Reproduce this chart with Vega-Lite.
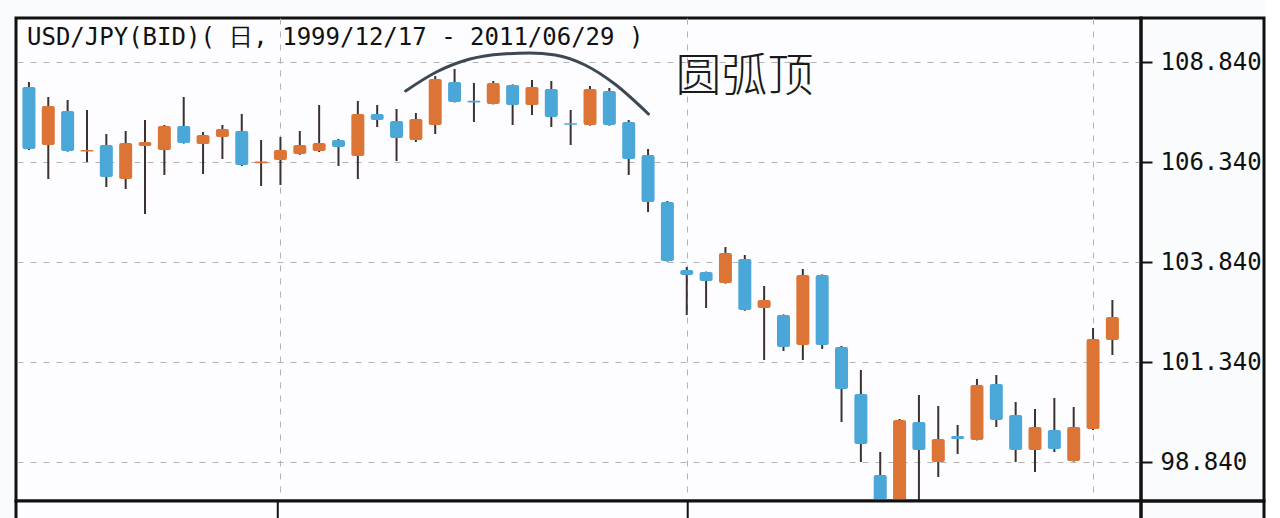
{
  "$schema": "https://vega.github.io/schema/vega-lite/v6.json",
  "description": "USD/JPY daily candlesticks with a rounded-top (圆弧顶) annotation.",
  "background": "#fafbfc",
  "padding": {"left": 14, "top": 16, "right": 0, "bottom": 0},
  "datasets": {
    "k": [
      {"i": 1, "open": 108.215, "high": 108.34, "low": 106.64, "close": 106.665},
      {"i": 2, "open": 106.765, "high": 107.965, "low": 105.915, "close": 107.74},
      {"i": 3, "open": 107.615, "high": 107.89, "low": 106.6, "close": 106.615},
      {"i": 4, "open": 106.6, "high": 107.64, "low": 106.34, "close": 106.64},
      {"i": 5, "open": 106.765, "high": 107.04, "low": 105.715, "close": 105.965},
      {"i": 6, "open": 105.915, "high": 107.115, "low": 105.665, "close": 106.815},
      {"i": 7, "open": 106.74, "high": 107.39, "low": 105.04, "close": 106.84},
      {"i": 8, "open": 106.64, "high": 107.265, "low": 106.015, "close": 107.24},
      {"i": 9, "open": 107.24, "high": 107.965, "low": 106.8, "close": 106.815},
      {"i": 10, "open": 106.79, "high": 107.09, "low": 106.04, "close": 107.015},
      {"i": 11, "open": 106.965, "high": 107.265, "low": 106.415, "close": 107.165},
      {"i": 12, "open": 107.115, "high": 107.54, "low": 106.24, "close": 106.265},
      {"i": 13, "open": 106.31, "high": 106.89, "low": 105.74, "close": 106.35},
      {"i": 14, "open": 106.39, "high": 106.965, "low": 105.765, "close": 106.64},
      {"i": 15, "open": 106.54, "high": 107.115, "low": 106.52, "close": 106.765},
      {"i": 16, "open": 106.615, "high": 107.765, "low": 106.59, "close": 106.815},
      {"i": 17, "open": 106.89, "high": 106.915, "low": 106.24, "close": 106.715},
      {"i": 18, "open": 106.49, "high": 107.865, "low": 105.915, "close": 107.54},
      {"i": 19, "open": 107.54, "high": 107.765, "low": 107.215, "close": 107.39},
      {"i": 20, "open": 107.365, "high": 107.665, "low": 106.365, "close": 106.94},
      {"i": 21, "open": 106.89, "high": 107.565, "low": 106.84, "close": 107.415},
      {"i": 22, "open": 107.265, "high": 108.49, "low": 107.04, "close": 108.415},
      {"i": 23, "open": 108.34, "high": 108.665, "low": 107.83, "close": 107.84},
      {"i": 24, "open": 107.87, "high": 108.315, "low": 107.34, "close": 107.83},
      {"i": 25, "open": 107.79, "high": 108.365, "low": 107.78, "close": 108.315},
      {"i": 26, "open": 108.265, "high": 108.28, "low": 107.265, "close": 107.765},
      {"i": 27, "open": 107.765, "high": 108.39, "low": 107.515, "close": 108.215},
      {"i": 28, "open": 108.165, "high": 108.365, "low": 107.215, "close": 107.465},
      {"i": 29, "open": 107.31, "high": 107.64, "low": 106.765, "close": 107.27},
      {"i": 30, "open": 107.265, "high": 108.24, "low": 107.25, "close": 108.165},
      {"i": 31, "open": 108.115, "high": 108.19, "low": 107.25, "close": 107.265},
      {"i": 32, "open": 107.34, "high": 107.39, "low": 106.015, "close": 106.415},
      {"i": 33, "open": 106.515, "high": 106.665, "low": 105.09, "close": 105.34},
      {"i": 34, "open": 105.34, "high": 105.365, "low": 103.85, "close": 103.865},
      {"i": 35, "open": 103.64, "high": 103.715, "low": 102.515, "close": 103.515},
      {"i": 36, "open": 103.59, "high": 103.6, "low": 102.69, "close": 103.365},
      {"i": 37, "open": 103.315, "high": 104.215, "low": 103.3, "close": 104.065},
      {"i": 38, "open": 103.915, "high": 104.015, "low": 102.62, "close": 102.64},
      {"i": 39, "open": 102.69, "high": 103.24, "low": 101.39, "close": 102.89},
      {"i": 40, "open": 102.515, "high": 102.53, "low": 101.615, "close": 101.715},
      {"i": 41, "open": 101.765, "high": 103.665, "low": 101.39, "close": 103.515},
      {"i": 42, "open": 103.515, "high": 103.53, "low": 101.665, "close": 101.765},
      {"i": 43, "open": 101.715, "high": 101.74, "low": 99.84, "close": 100.665},
      {"i": 44, "open": 100.54, "high": 101.14, "low": 98.84, "close": 99.29},
      {"i": 45, "open": 98.515, "high": 99.09, "low": 97.3, "close": 97.6},
      {"i": 46, "open": 97.5, "high": 99.915, "low": 97.2, "close": 99.89},
      {"i": 47, "open": 99.84, "high": 100.515, "low": 97.5, "close": 99.14},
      {"i": 48, "open": 98.84, "high": 100.24, "low": 98.465, "close": 99.415},
      {"i": 49, "open": 99.49, "high": 99.765, "low": 99.04, "close": 99.415},
      {"i": 50, "open": 99.39, "high": 100.915, "low": 99.38, "close": 100.765},
      {"i": 51, "open": 100.79, "high": 101.015, "low": 99.715, "close": 99.89},
      {"i": 52, "open": 100.015, "high": 100.34, "low": 98.84, "close": 99.14},
      {"i": 53, "open": 99.14, "high": 100.165, "low": 98.59, "close": 99.715},
      {"i": 54, "open": 99.64, "high": 100.44, "low": 99.09, "close": 99.165},
      {"i": 55, "open": 98.865, "high": 100.215, "low": 98.85, "close": 99.715},
      {"i": 56, "open": 99.665, "high": 102.19, "low": 99.64, "close": 101.915},
      {"i": 57, "open": 101.89, "high": 102.89, "low": 101.515, "close": 102.465}
    ],
    "arc": [
      {"i": 20.47, "v": 108.115},
      {"i": 22.06, "v": 108.59},
      {"i": 23.8, "v": 108.915},
      {"i": 25.49, "v": 109.04},
      {"i": 26.87, "v": 109.065},
      {"i": 28.2, "v": 109.015},
      {"i": 29.74, "v": 108.765},
      {"i": 31.28, "v": 108.29},
      {"i": 33.02, "v": 107.54}
    ],
    "note": [
      {"i": 37.99, "v": 108.465, "label": "圆弧顶"}
    ]
  },
  "spacing": 0,
  "bounds": "flush",
  "columns": 2,
  "concat": [
    {
      "width": 1125,
      "height": 483,
      "title": {
        "text": "USD/JPY(BID)( 日, 1999/12/17 - 2011/06/29 )",
        "anchor": "start",
        "frame": "group",
        "orient": "top",
        "offset": -51,
        "dx": 11,
        "baseline": "alphabetic",
        "font": "DejaVu Sans Mono",
        "fontSize": 24,
        "fontWeight": "normal",
        "color": "#111111"
      },
      "layer": [
        {
          "data": {"name": "k"},
          "mark": {"type": "rule", "strokeWidth": 2, "color": "#3b3131", "clip": true},
          "encoding": {
            "x": {
              "field": "i",
              "type": "quantitative",
              "scale": {"domain": [0.59, 58.22], "nice": false, "zero": false},
              "axis": {
                "orient": "bottom",
                "values": [14, 35, 56],
                "labels": false,
                "ticks": false,
                "domain": false,
                "grid": true,
                "gridColor": "#b3b3b3",
                "gridDash": [6, 7],
                "gridWidth": 1,
                "title": null
              }
            },
            "y": {
              "field": "low",
              "type": "quantitative",
              "scale": {"domain": [97.865, 109.94], "nice": false, "zero": false},
              "axis": {
                "orient": "right",
                "values": [98.84, 101.34, 103.84, 106.34, 108.84],
                "format": ".3f",
                "labelFont": "DejaVu Sans Mono",
                "labelFontSize": 24,
                "labelColor": "#111111",
                "labelPadding": 8,
                "labelBaseline": "middle",
                "tickColor": "#111111",
                "tickSize": 11,
                "tickWidth": 2,
                "domain": false,
                "grid": true,
                "gridColor": "#b3b3b3",
                "gridDash": [6, 7],
                "gridWidth": 1,
                "title": null
              }
            },
            "y2": {"field": "high"}
          }
        },
        {
          "data": {"name": "k"},
          "mark": {"type": "bar", "size": 13, "cornerRadius": 2, "clip": true},
          "encoding": {
            "x": {"field": "i", "type": "quantitative"},
            "y": {"field": "open", "type": "quantitative"},
            "y2": {"field": "close"},
            "color": {
              "condition": {"test": "datum.close >= datum.open", "value": "#dc7436"},
              "value": "#4ba7d8"
            }
          }
        },
        {
          "data": {"name": "arc"},
          "mark": {"type": "line", "interpolate": "monotone", "strokeWidth": 3, "color": "#3c4852", "strokeCap": "round"},
          "encoding": {
            "x": {"field": "i", "type": "quantitative"},
            "y": {"field": "v", "type": "quantitative"}
          }
        },
        {
          "data": {"name": "note"},
          "mark": {
            "type": "text",
            "font": "Noto Sans CJK SC",
            "fontSize": 46,
            "fontWeight": 300,
            "color": "#1a1a1a",
            "align": "center",
            "baseline": "middle"
          },
          "encoding": {
            "x": {"field": "i", "type": "quantitative"},
            "y": {"field": "v", "type": "quantitative"},
            "text": {"field": "label"}
          }
        }
      ]
    },
    {
      "width": 123,
      "height": 483,
      "view": {"fill": "transparent"},
      "data": {"values": [{"v": 0}]},
      "mark": {"type": "point", "opacity": 0},
      "encoding": {
        "y": {"field": "v", "type": "quantitative", "axis": null}
      }
    },
    {
      "width": 1125,
      "height": 30,
      "data": {"values": [{"i": 14}, {"i": 35}]},
      "mark": {"type": "rule", "strokeWidth": 2, "color": "#111111"},
      "encoding": {
        "x": {
          "field": "i",
          "type": "quantitative",
          "scale": {"domain": [0.59, 58.22], "nice": false, "zero": false},
          "axis": null
        }
      }
    },
    {
      "width": 123,
      "height": 30,
      "view": {"fill": "transparent"},
      "data": {"values": [{"v": 0}]},
      "mark": {"type": "point", "opacity": 0},
      "encoding": {
        "y": {"field": "v", "type": "quantitative", "axis": null}
      }
    }
  ],
  "config": {
    "view": {"stroke": "#111111", "strokeWidth": 3, "fill": "#fdfdff"}
  }
}
